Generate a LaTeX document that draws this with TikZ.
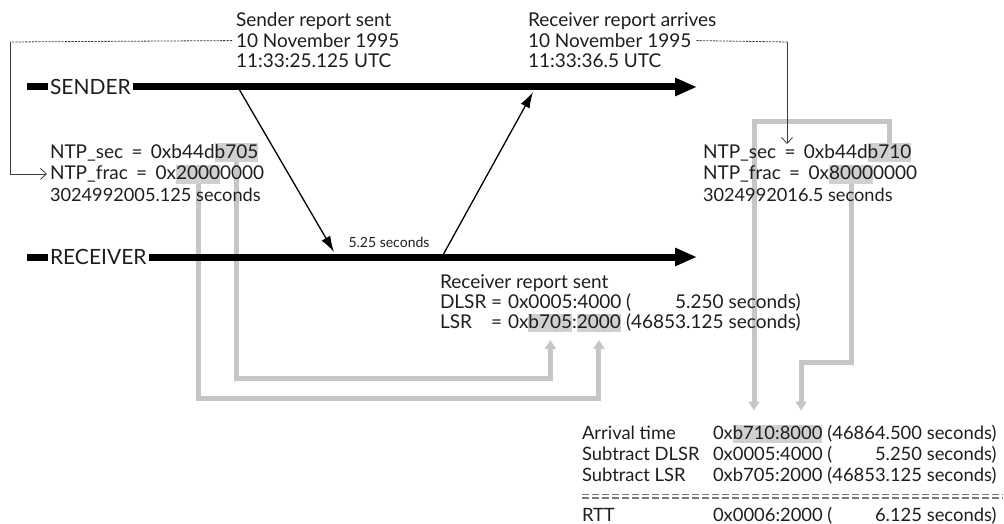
\documentclass[tikz,border=0pt]{standalone}
\usepackage{fontspec}
\setmainfont{Lato}
\usetikzlibrary{arrows.meta}
\pgfdeclarelayer{bg}
\pgfsetlayers{bg,main}
\definecolor{ink}{HTML}{1E1E1E}
\definecolor{hlc}{HTML}{D0D0D0}
\definecolor{gline}{HTML}{C6C6C6}
\definecolor{thinc}{HTML}{3A3A3A}
\newcommand{\eqsp}{\hspace{3.5pt} = \hspace{3.5pt}}
\tikzset{
  txt/.style={anchor=base west, inner sep=0pt, outer sep=0pt, text=ink, font=\fontsize{19}{21}\selectfont},
  tab/.style={txt, font=\fontsize{18.4}{21}\selectfont},
  secs/.style={txt, font=\fontsize{18.2}{21}\selectfont},
  hlt/.style={txt, fill=hlc, text height=14pt, text depth=3.5pt, inner ysep=0.5pt},
  hltab/.style={hlt, font=\fontsize{18.4}{21}\selectfont},
  lbl/.style={anchor=west, inner xsep=2.5pt, inner ysep=0pt, outer sep=0pt, text=ink, font=\fontsize{21}{23}\selectfont},
  small/.style={inner sep=0pt, text=ink, font=\fontsize{14}{16}\selectfont},
  thick line/.style={line width=7pt, draw=black},
  thick arrow/.style={line width=7pt, draw=black, -{Triangle[length=22pt,width=17pt]}},
  msg/.style={line width=1.3pt, draw=black, -{Latex[length=16pt,width=10pt]}},
  dashline/.style={line width=0.8pt, draw=thinc, dash pattern=on 2.2pt off 1.1pt},
  pointer/.style={line width=0.8pt, draw=thinc, -{Straight Barb[length=6pt,width=11pt,line width=0.8pt]}},
  gpath/.style={line width=5pt, draw=gline, -{Triangle[length=9pt,width=11pt]}},
}
\begin{document}
\begin{tikzpicture}[x=1pt,y=-1pt]
\useasboundingbox (0,0) rectangle (1004,524);

% time lines
\coordinate (sstub) at (27,87);
\node[lbl] (snd) at (47.5,87) {SENDER};
\coordinate (send) at (697,87);
\draw[thick line] (sstub) -- (snd.west);
\draw[thick arrow] (snd.east) -- (send);

\coordinate (rstub) at (27,257);
\node[lbl] (rcv) at (47.5,257) {RECEIVER};
\coordinate (rend) at (697,257);
\draw[thick line] (rstub) -- (rcv.west);
\draw[thick arrow] (rcv.east) -- (rend);

% messages
\coordinate (sent) at (239,89);
\coordinate (rrecv) at (334,252);
\coordinate (rsent) at (443,255);
\coordinate (rarr) at (533,92);
\draw[msg] (sent) -- (rrecv);
\draw[msg] (rsent) -- (rarr);
\node[small] (dt) at (389,242) {5.25 seconds};

% top texts
\node[txt] (sl1) at (236,27) {Sender report sent};
\node[txt] (sl2) at (236,47.5) {10 November 1995};
\node[txt] (sl3) at (236,68) {11:33:25.125 UTC};
\node[txt] (rl1) at (528,27) {Receiver report arrives};
\node[txt] (rl2) at (528,47.5) {10 November 1995};
\node[txt] (rl3) at (528,68) {11:33:36.5 UTC};

% left NTP block
\node[txt] (nsL) at (50,158) {NTP\_sec\eqsp 0xb44d};
\node[hlt] (hlL1) at (nsL.base east) {b705};
\node[txt] (nfL) at (50,179.5) {NTP\_frac\eqsp 0x};
\node[hlt] (hlL2) at (nfL.base east) {2000};
\node[txt] (nfL2) at (hlL2.base east) {0000};
\node[secs] (nsecL) at (50,201) {3024992005.125 seconds};

% right NTP block
\node[txt] (nsR) at (703,158) {NTP\_sec\eqsp 0xb44d};
\node[hlt] (hlR1) at (nsR.base east) {b710};
\node[txt] (nfR) at (703,179.5) {NTP\_frac\eqsp 0x};
\node[hlt] (hlR2) at (nfR.base east) {8000};
\node[txt] (nfR2) at (hlR2.base east) {0000};
\node[secs] (nsecR) at (703,201) {3024992016.5 seconds};

% receiver report sent block
\node[txt] (rs1) at (440,288) {Receiver report sent};
\node[txt] (rs3a) at (440,328) {LSR};
\node[txt] (rs3b) at (491,328) {=};
\node[txt] (rs3c) at (508,328) {0x};
\node[hlt] (lsrB) at (rs3c.base east) {b705};
\node[txt] (rs3e) at (lsrB.base east) {:};
\node[hlt] (lsrC) at (rs3e.base east) {2000};
\node[txt] (rs3d) at ([xshift=5pt]lsrC.base east) {(46853.125 seconds)};
\node[txt] (rs2a) at (440,308) {DLSR};
\node[txt] (rs2b) at (491,308) {=};
\node[txt] (rs2c) at (508,308) {0x0005:4000};
\node[txt] (rs2d) at ([yshift=20pt]rs3d.base west) {(};
\node[txt, anchor=base east] (rs2e) at ([yshift=20pt]rs3d.base east) {5.250 seconds)};

% table
\node[tab] (t1a) at (582,439) {Arrival time};
\node[tab] (t1b) at (713,439) {0x};
\node[hltab] (arrB) at (t1b.base east) {b710};
\node[hltab] (arrC) at (arrB.base east) {:};
\node[hltab] (arrD) at (arrC.base east) {8000};
\node[tab] (t1e) at ([xshift=5pt]arrD.base east) {(46864.500 seconds)};
\node[tab] (t2a) at (582,460) {Subtract DLSR};
\node[tab] (t2b) at (713,460) {0x0005:4000};
\node[tab] (t2c) at ([yshift=-21pt]t1e.base west) {(};
\node[tab, anchor=base east] (t2d) at ([yshift=-21pt]t1e.base east) {5.250 seconds)};
\node[tab] (t3a) at (582,481) {Subtract LSR};
\node[tab] (t3b) at (713,481) {0xb705:2000};
\node[tab] (t3c) at ([yshift=-42pt]t1e.base west) {(46853.125 seconds)};
\coordinate (dA) at (582,494.5);
\coordinate (dB) at (1003,494.5);
\coordinate (dC) at (582,498);
\coordinate (dD) at (1003,498);
\draw[line width=1.3pt, draw=ink!60, dash pattern=on 7pt off 3pt] (dA) -- (dB);
\draw[line width=1.3pt, draw=ink!60, dash pattern=on 7pt off 3pt] (dC) -- (dD);
\node[tab] (t4a) at (582,521) {RTT};
\node[tab] (t4b) at (713,521) {0x0006:2000};
\node[tab] (t4c) at ([yshift=-82pt]t1e.base west) {(};
\node[tab, anchor=base east] (t4d) at ([yshift=-82pt]t1e.base east) {6.125 seconds)};

% thin dashed pointers
\coordinate (bendA) at (10,42);
\coordinate (bendB) at (787,42);
\draw[dashline] ([xshift=-4pt]sl2.west) -- (bendA);
\draw[pointer, shorten >=3pt] (bendA) |- (nfL.west);
\draw[dashline] ([xshift=5pt]rl2.east) -- (bendB);
\draw[pointer] (bendB) -- (bendB |- nsR.north);

% grey value paths
\coordinate (yA) at (0,378);
\coordinate (yB) at (0,398);
\coordinate (yC) at (0,122);
\coordinate (yD) at (0,362);
\begin{pgfonlayer}{bg}
\draw[gpath, shorten >=8pt] (hlL1.south) -- (hlL1.south |- yA) -| (lsrB.south);
\draw[gpath, shorten >=8pt] (hlL2.south) -- (hlL2.south |- yB) -| (lsrC.south);
\draw[gpath, shorten >=14pt] (hlR1.north) -- (hlR1.north |- yC) -| (arrB.north);
\draw[gpath, shorten >=14pt] (hlR2.south) -- (hlR2.south |- yD) -| (arrD.north);
\end{pgfonlayer}
\end{tikzpicture}
\end{document}
